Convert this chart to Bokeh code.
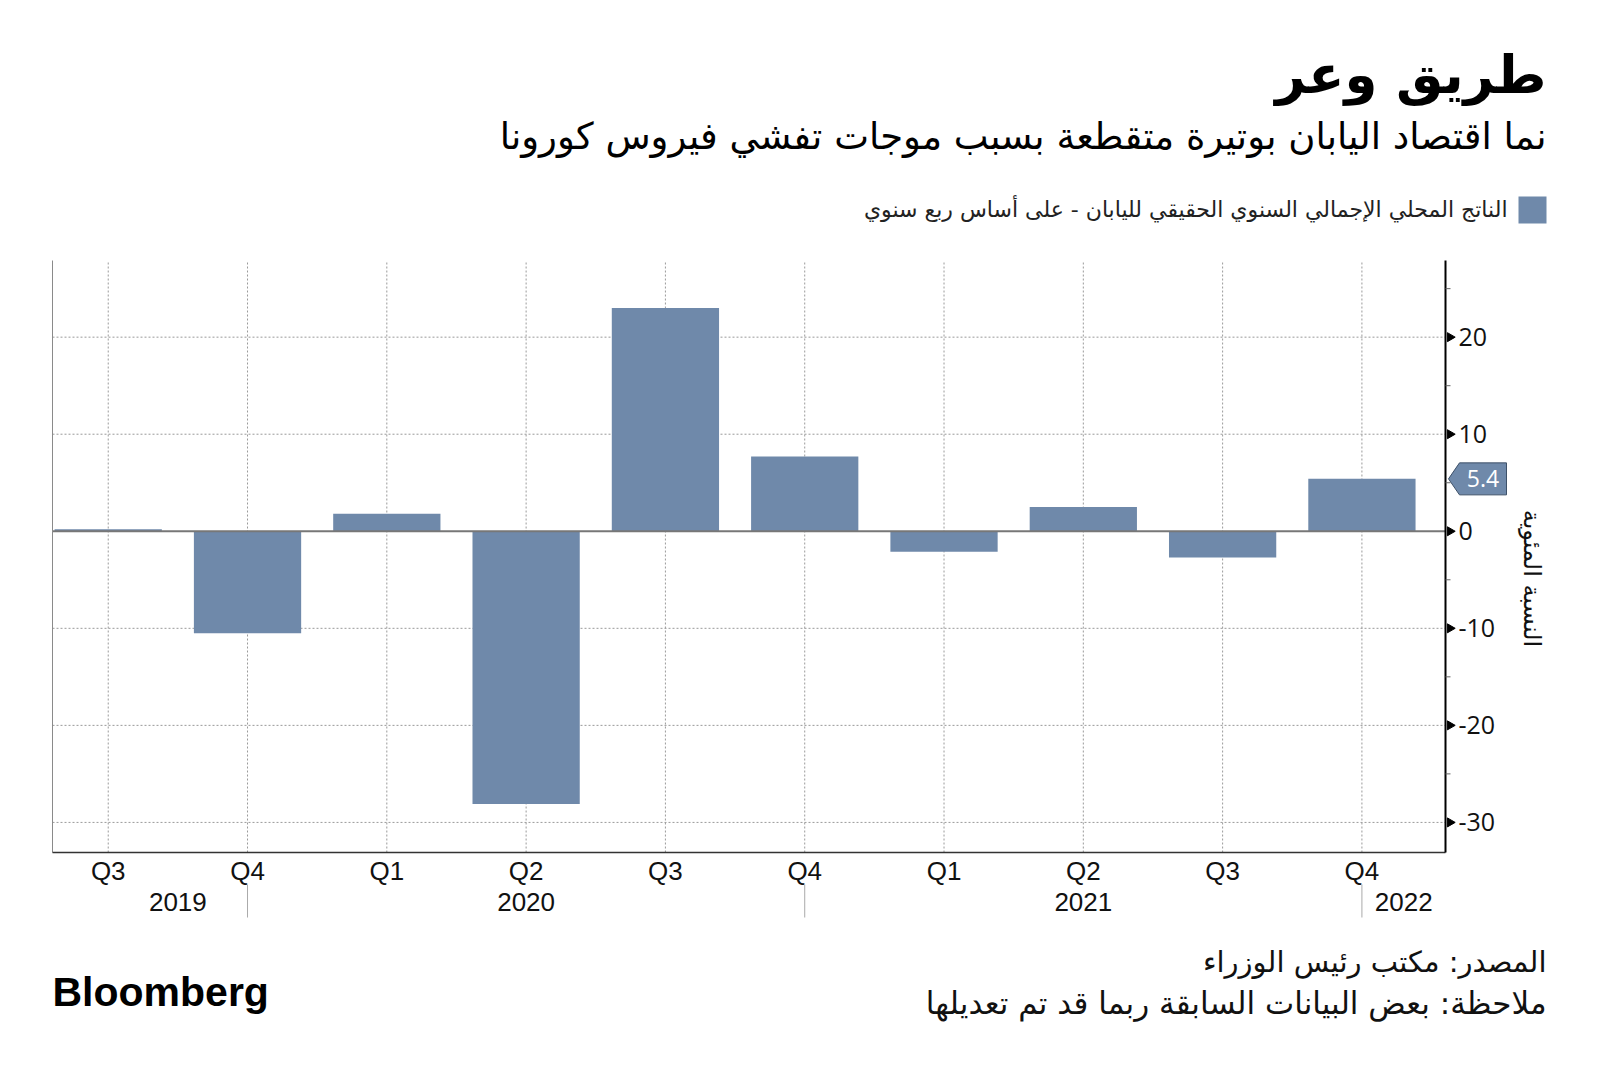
import numpy as np
from bokeh.plotting import figure
from bokeh.models import Range1d, ColumnDataSource
from bokeh.core.properties import value
from bokeh.embed import file_html
from bokeh.resources import INLINE

# ---------------- data ----------------
quarters = ["Q3", "Q4", "Q1", "Q2", "Q3", "Q4", "Q1", "Q2", "Q3", "Q4"]
gdp = [0.2, -10.5, 1.8, -28.1, 23.0, 7.7, -2.1, 2.5, -2.7, 5.4]
year_labels = ["2019", "2020", "2021", "2022"]
year_label_pos = [0.5, 3.0, 7.0, 9.3]
year_sep_pos = [1.0, 5.0, 9.0]
y_ticks = [-30, -20, -10, 0, 10, 20]
y_minor = [-25, -15, -5, 5, 15, 25]

title = "طريق وعر"
subtitle = "نما اقتصاد اليابان بوتيرة متقطعة بسبب موجات تفشي فيروس كورونا"
legend_text = "الناتج المحلي الإجمالي السنوي الحقيقي لليابان - على أساس ربع سنوي"
y_label = "النسبة المئوية"
source_text = "المصدر: مكتب رئيس الوزراء"
note_text = "ملاحظة: بعض البيانات السابقة ربما قد تم تعديلها"
brand = "Bloomberg"

# ---------------- geometry (pixels) ----------------
W, H = 1600, 1069
FL, FR, FT, FB = 52, 1445, 260, 852          # plot area in canvas pixels
X_L, X_R = -0.4, len(gdp) - 0.4               # category range of plot area
Y_TOP, Y_BOT = 27.9, -33.1                    # value range of plot area
PPX = (FR - FL) / (X_R - X_L)
PPY = (FB - FT) / (Y_TOP - Y_BOT)


def xd(px):
    return X_L + (px - FL) / PPX


def yd(py):
    return Y_TOP - (py - FT) / PPY


BAR = "#6f89aa"
AR_FONT = value("DejaVu Sans")
NUM_FONT = value("Open Sans")
LAT_FONT = value("Liberation Sans")

p = figure(width=W, height=H, output_backend="svg", toolbar_location=None,
           x_range=Range1d(xd(0), xd(W)), y_range=Range1d(yd(H), yd(0)),
           min_border_left=0, min_border_right=0, min_border_top=0, min_border_bottom=0,
           x_axis_location=None, y_axis_location=None)
p.outline_line_color = None
p.background_fill_color = "white"
p.border_fill_color = "white"
p.xgrid.visible = False
p.ygrid.visible = False

idx = list(range(len(gdp)))
GRID = "#9a9a9a"

# vertical grid lines
p.segment(x0=idx, x1=idx, y0=Y_BOT, y1=Y_TOP, line_color=GRID, line_dash="2 2", line_width=1)
# horizontal grid lines
hg = [t for t in y_ticks if t != 0]
p.segment(x0=X_L, x1=X_R, y0=hg, y1=hg, line_color=GRID, line_dash="2 2", line_width=1)

# bars
src = ColumnDataSource(dict(x=idx, top=gdp))
p.vbar(x="x", top="top", bottom=0, width=0.77, source=src, fill_color=BAR, line_color=None)

# zero line
p.segment(x0=X_L, x1=X_R, y0=0, y1=0, line_color="#777777", line_width=2)
# left border
p.segment(x0=X_L, x1=X_L, y0=Y_BOT, y1=Y_TOP, line_color="#8a8a8a", line_width=1)
# bottom axis line
p.segment(x0=X_L, x1=X_R, y0=Y_BOT, y1=Y_BOT, line_color="#333333", line_width=1.5)
# right axis line
p.segment(x0=X_R, x1=X_R, y0=Y_BOT, y1=Y_TOP, line_color="black", line_width=2)

# major ticks (right-pointing arrows) and minor ticks
p.scatter(x=xd(FR + 4.5), y=y_ticks, marker="triangle", angle=-np.pi / 2, size=9,
          fill_color="black", line_color="black")
p.segment(x0=X_R, x1=xd(FR + 5), y0=y_minor, y1=y_minor, line_color="#666666", line_width=1)

# y tick labels
p.text(x=xd(FR + 13), y=y_ticks, text=[str(t) for t in y_ticks],
       text_font=NUM_FONT, text_font_size="25px", text_align="left",
       text_baseline="middle", text_color="#111111")

# x quarter labels
p.text(x=idx, y=yd(870), text=quarters, text_font=LAT_FONT, text_font_size="26px",
       text_align="center", text_baseline="middle", text_color="#111111")
# year separators and labels
p.segment(x0=year_sep_pos, x1=year_sep_pos, y0=yd(884), y1=yd(917),
          line_color="#aaaaaa", line_width=1)
p.text(x=year_label_pos, y=yd(901), text=year_labels, text_font=LAT_FONT,
       text_font_size="26px", text_align="center", text_baseline="middle",
       text_color="#111111")

# last-value tag
last = gdp[-1]
h = 16 / PPY
p.patch(x=[xd(1448), xd(1459), xd(1506), xd(1506), xd(1459)],
        y=[last, last + h, last + h, last - h, last - h],
        fill_color=BAR, line_color="#3d5068", line_width=1)
p.text(x=xd(1482.5), y=last, text=[f"{last:.1f}"], text_font=NUM_FONT,
       text_font_size="23px", text_align="center", text_baseline="middle",
       text_color="white")

# y-axis title
p.text(x=xd(1531), y=yd(578), text=[y_label], angle=-np.pi / 2, text_font=AR_FONT,
       text_font_size="24px", text_align="center", text_baseline="middle",
       text_color="#111111")

# legend
p.quad(left=xd(1518), right=xd(1546), top=yd(196), bottom=yd(223),
       fill_color=BAR, line_color=None)
p.text(x=xd(1507), y=yd(209), text=[legend_text], text_font=AR_FONT,
       text_font_size="22px", text_align="right", text_baseline="middle",
       text_color="#222222")

# titles
p.text(x=xd(1546), y=yd(74), text=[title], text_font=AR_FONT, text_font_size="53px",
       text_font_style="bold", text_align="right", text_baseline="middle",
       text_color="#000000")
p.text(x=xd(1546), y=yd(136), text=[subtitle], text_font=AR_FONT, text_font_size="37px",
       text_align="right", text_baseline="middle", text_color="#000000")

# footer
p.text(x=xd(1546), y=yd(961), text=[source_text], text_font=AR_FONT, text_font_size="29px",
       text_align="right", text_baseline="middle", text_color="#111111")
p.text(x=xd(1546), y=yd(1002), text=[note_text], text_font=AR_FONT, text_font_size="31px",
       text_align="right", text_baseline="middle", text_color="#111111")
p.text(x=xd(52), y=yd(991), text=[brand], text_font=LAT_FONT, text_font_size="41px",
       text_font_style="bold", text_align="left", text_baseline="middle",
       text_color="#000000")

open("out.html", "w").write(file_html(p, INLINE))
